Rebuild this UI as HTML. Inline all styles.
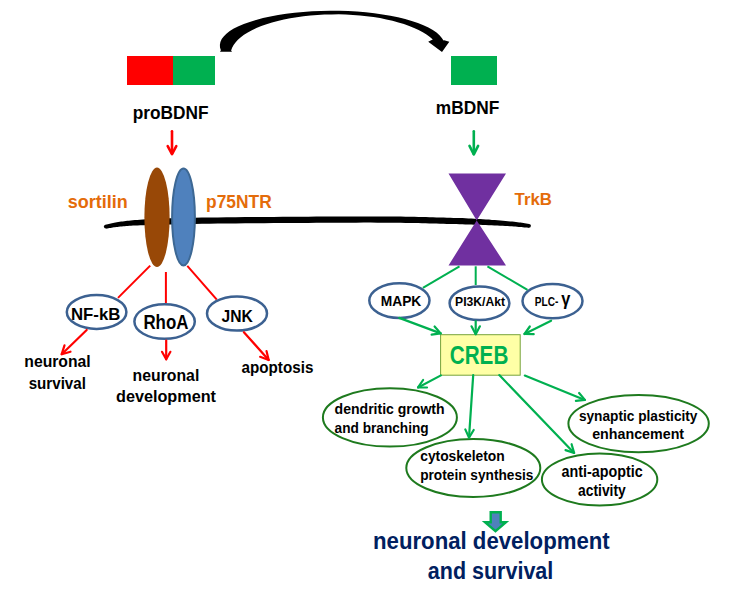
<!DOCTYPE html>
<html><head><meta charset="utf-8">
<style>
html,body{margin:0;padding:0;background:#fff;width:745px;height:597px;overflow:hidden}
svg{position:absolute;left:0;top:0;display:block}
text{font-family:"Liberation Sans",sans-serif;font-weight:bold}
</style></head><body>
<svg width="745" height="597" viewBox="0 0 745 597">
<!-- top boxes -->
<rect x="127" y="56" width="46" height="29" fill="#ff0000"/>
<rect x="173" y="56" width="42" height="29" fill="#00b050"/>
<rect x="451" y="56" width="46" height="29" fill="#00b050"/>
<!-- curved arrow -->
<path d="M220.0,51.7 L220.9,50.3 L220.0,47.5 L219.9,44.7 L220.4,41.9 L221.7,39.1 L223.7,36.4 L226.4,33.7 L229.8,31.1 L233.8,28.6 L238.5,26.3 L243.8,24.0 L249.7,21.9 L256.1,19.9 L263.0,18.1 L270.4,16.5 L278.1,15.0 L286.2,13.8 L294.6,12.7 L303.3,11.9 L312.1,11.3 L321.0,10.9 L330.1,10.7 L339.1,10.8 L348.1,11.1 L357.0,11.6 L365.8,12.3 L374.3,13.3 L382.5,14.4 L390.4,15.8 L398.0,17.3 L405.1,19.0 L411.7,20.9 L417.9,23.0 L423.4,25.2 L428.4,27.5 L432.8,30.0 L436.5,32.5 L439.5,35.2 L441.8,37.9 L443.5,40.6 L444.2,40.2 L449.3,41.7 L442.0,52.0 L428.2,41.7 L431.1,40.2 L432.8,39.5 L429.9,37.0 L426.5,34.6 L422.8,32.3 L418.6,30.0 L414.1,27.9 L409.2,25.9 L403.9,24.1 L398.4,22.4 L392.5,20.8 L386.4,19.4 L380.0,18.1 L373.5,17.1 L366.7,16.2 L359.9,15.4 L352.9,14.9 L345.8,14.5 L338.7,14.3 L331.5,14.4 L324.4,14.6 L317.4,14.9 L310.4,15.5 L303.5,16.2 L296.8,17.2 L290.2,18.3 L283.9,19.5 L277.8,21.0 L272.0,22.5 L266.5,24.3 L261.3,26.1 L256.4,28.1 L251.9,30.3 L247.8,32.5 L244.0,34.8 L240.8,37.3 L237.9,39.8 L235.5,42.4 L233.6,45.0 L232.1,47.7 L231.1,50.4 L232.0,51.7 Z" fill="#000"/>

<!-- texts top -->
<text x="132.75" y="119.2" font-size="18" textLength="75.85" lengthAdjust="spacingAndGlyphs">proBDNF</text>
<text x="435.8" y="113.9" font-size="18" textLength="63.4" lengthAdjust="spacingAndGlyphs">mBDNF</text>

<!-- membrane -->
<path d="M106.1,228.5 L107.3,228.4 L108.4,228.2 L109.5,228.0 L110.6,227.9 L111.7,227.7 L112.8,227.5 L113.9,227.3 L115.0,227.2 L116.2,227.0 L117.4,226.9 L118.8,226.7 L120.3,226.6 L121.8,226.4 L123.3,226.3 L124.7,226.2 L126.2,226.1 L127.7,225.9 L129.4,225.8 L131.1,225.7 L133.0,225.6 L135.2,225.5 L137.5,225.4 L140.2,225.3 L143.1,225.3 L146.3,225.2 L149.5,225.1 L152.8,225.0 L156.3,224.9 L160.0,224.8 L164.0,224.6 L168.2,224.5 L172.8,224.4 L177.7,224.3 L183.0,224.1 L188.8,224.0 L195.1,223.9 L202.0,223.8 L209.6,223.7 L217.9,223.6 L226.7,223.5 L235.8,223.4 L245.2,223.3 L254.7,223.2 L264.2,223.2 L273.6,223.1 L282.8,223.0 L291.6,223.0 L300.0,222.9 L308.2,222.9 L316.3,222.8 L324.5,222.8 L332.6,222.7 L340.6,222.7 L348.4,222.7 L356.1,222.7 L363.5,222.6 L370.7,222.6 L377.5,222.7 L383.9,222.7 L390.0,222.7 L395.6,222.7 L400.8,222.8 L405.6,222.9 L410.1,222.9 L414.3,223.0 L418.2,223.1 L422.0,223.2 L425.7,223.3 L429.3,223.4 L432.8,223.5 L436.3,223.6 L439.9,223.7 L443.5,223.8 L446.9,223.9 L450.2,224.0 L453.4,224.1 L456.4,224.1 L459.5,224.2 L462.4,224.3 L465.3,224.4 L468.2,224.5 L471.1,224.6 L474.0,224.7 L476.9,224.7 L479.8,224.8 L482.7,224.9 L485.7,225.1 L488.7,225.2 L491.6,225.3 L494.5,225.4 L497.3,225.6 L500.0,225.7 L502.7,225.8 L505.2,226.0 L507.6,226.1 L509.8,226.2 L511.9,226.3 L513.8,226.5 L515.5,226.6 L517.1,226.7 L518.7,226.9 L520.1,227.0 L521.5,227.1 L522.9,227.2 L524.3,227.4 L525.8,227.5 L527.2,227.6 L528.8,227.7 L529.2,223.9 L527.7,223.7 L526.2,223.4 L524.8,223.2 L523.4,223.0 L522.0,222.8 L520.6,222.6 L519.2,222.4 L517.6,222.2 L516.0,222.0 L514.2,221.8 L512.3,221.6 L510.2,221.4 L507.9,221.2 L505.5,221.0 L503.0,220.7 L500.4,220.5 L497.6,220.3 L494.8,220.1 L491.9,219.9 L489.0,219.6 L486.0,219.4 L483.0,219.2 L480.1,219.0 L477.1,218.9 L474.2,218.7 L471.3,218.5 L468.5,218.4 L465.6,218.2 L462.6,218.1 L459.7,218.0 L456.6,217.9 L453.5,217.9 L450.3,217.8 L447.0,217.7 L443.6,217.6 L440.1,217.5 L436.5,217.4 L433.0,217.3 L429.4,217.2 L425.9,217.1 L422.2,217.0 L418.4,216.9 L414.4,216.8 L410.2,216.7 L405.7,216.7 L400.8,216.6 L395.6,216.5 L390.0,216.5 L384.0,216.5 L377.5,216.5 L370.7,216.4 L363.5,216.4 L356.1,216.5 L348.4,216.5 L340.6,216.5 L332.6,216.5 L324.5,216.6 L316.3,216.6 L308.1,216.7 L300.0,216.7 L291.6,216.8 L282.7,216.8 L273.5,216.9 L264.1,217.0 L254.6,217.0 L245.1,217.1 L235.7,217.2 L226.6,217.3 L217.8,217.4 L209.6,217.5 L201.9,217.6 L194.9,217.7 L188.7,217.8 L182.9,217.9 L177.5,218.1 L172.6,218.2 L168.0,218.3 L163.8,218.5 L159.8,218.6 L156.1,218.7 L152.6,218.9 L149.2,219.1 L146.0,219.3 L142.9,219.5 L139.9,219.7 L137.2,219.9 L134.8,220.1 L132.7,220.3 L130.7,220.5 L128.9,220.7 L127.3,220.8 L125.7,221.0 L124.2,221.2 L122.7,221.4 L121.2,221.6 L119.7,221.8 L118.2,222.0 L116.8,222.3 L115.5,222.5 L114.2,222.7 L113.1,223.0 L111.9,223.2 L110.9,223.5 L109.8,223.7 L108.7,223.9 L107.7,224.2 L106.6,224.4 L105.5,224.7 Z" fill="#000"/>

<circle cx="105.8" cy="226.6" r="1.9" fill="#000"/><circle cx="529.0" cy="225.8" r="1.9" fill="#000"/>
<!-- receptors -->
<ellipse cx="157" cy="217.3" rx="12.6" ry="49.7" fill="#984807"/>
<ellipse cx="183.5" cy="217" rx="11.4" ry="48.5" fill="#4f81bd" stroke="#3d6894" stroke-width="2"/>
<path d="M448.5,173.4 L506,173.4 L476.7,220.4 Z M476.7,220.4 L506,265.5 L448.5,265.5 Z" fill="#7030a0"/>

<text x="67.8" y="207.8" font-size="18" fill="#e46c0a" textLength="60" lengthAdjust="spacingAndGlyphs">sortilin</text>
<text x="206.1" y="207.7" font-size="17.5" fill="#e46c0a" textLength="65.6" lengthAdjust="spacingAndGlyphs">p75NTR</text>
<text x="514.6" y="204.9" font-size="17.4" fill="#e46c0a" textLength="37.4" lengthAdjust="spacingAndGlyphs">TrkB</text>

<!-- red lines -->
<g stroke="#ff0000" stroke-width="2" fill="none">
<line x1="150.2" y1="265.6" x2="118" y2="297.9"/>
<line x1="165.9" y1="272" x2="165.9" y2="303.2"/>
<line x1="187.3" y1="265.9" x2="216.8" y2="299.6"/>
</g>

<!-- blue ellipses -->
<g fill="#fff" stroke="#3c6191" stroke-width="2.5">
<ellipse cx="96.6" cy="312" rx="29.8" ry="16.9"/>
<ellipse cx="164.6" cy="321.5" rx="30.2" ry="17.3"/>
<ellipse cx="237" cy="313.5" rx="30" ry="17.1"/>
<ellipse cx="399.4" cy="300.6" rx="30.1" ry="17.3"/>
<ellipse cx="479.5" cy="303.2" rx="29.9" ry="16.8"/>
<ellipse cx="552.5" cy="301.1" rx="30" ry="17.2"/>
</g>

<text x="71" y="320.4" font-size="17" textLength="49.4" lengthAdjust="spacingAndGlyphs">NF-kB</text>
<text x="143.4" y="328.9" font-size="19.5" textLength="45" lengthAdjust="spacingAndGlyphs">RhoA</text>
<text x="221.5" y="322.4" font-size="17.3" textLength="31.3" lengthAdjust="spacingAndGlyphs">JNK</text>

<text x="24.3" y="367" font-size="16" textLength="66.4" lengthAdjust="spacingAndGlyphs">neuronal</text>
<text x="28.7" y="389.3" font-size="16" textLength="57.2" lengthAdjust="spacingAndGlyphs">survival</text>
<text x="132.6" y="380.9" font-size="16" textLength="66.7" lengthAdjust="spacingAndGlyphs">neuronal</text>
<text x="116" y="401.8" font-size="16" textLength="100" lengthAdjust="spacingAndGlyphs">development</text>
<text x="241.5" y="373.3" font-size="17" textLength="71.9" lengthAdjust="spacingAndGlyphs">apoptosis</text>

<!-- green lines from TrkB -->
<g stroke="#00b050" stroke-width="2" fill="none">
<line x1="459.5" y1="266.3" x2="422.9" y2="287.8"/>
<line x1="475.7" y1="266.3" x2="475.7" y2="285"/>
<line x1="487.4" y1="266.3" x2="527.5" y2="289.9"/>
</g>

<text x="380.7" y="305.8" font-size="14.4" textLength="40.6" lengthAdjust="spacingAndGlyphs">MAPK</text>
<text x="455.1" y="305.5" font-size="13.3" textLength="50" lengthAdjust="spacingAndGlyphs">PI3K/Akt</text>
<text x="534.8" y="305.6" font-size="12.8" textLength="23.5" lengthAdjust="spacingAndGlyphs">PLC-</text>
<text x="561.3" y="305" font-size="17.5" textLength="9.1" lengthAdjust="spacingAndGlyphs">&#947;</text>

<!-- CREB -->
<rect x="440.6" y="334.7" width="79.6" height="40.5" fill="#ffffa6" stroke="#77a33b" stroke-width="1"/>
<text x="449.8" y="364" font-size="25" fill="#00b050" textLength="58.5" lengthAdjust="spacingAndGlyphs">CREB</text>



<!-- green ellipses -->
<g fill="none" stroke="#1e7a1e" stroke-width="2">
<ellipse cx="389.9" cy="417.4" rx="67" ry="29.2"/>
<ellipse cx="473.3" cy="468" rx="67" ry="29"/>
<ellipse cx="638.6" cy="423.6" rx="70.2" ry="28.7"/>
<ellipse cx="599.6" cy="479.5" rx="57.7" ry="26"/>
</g>

<text x="334.6" y="413.8" font-size="15" textLength="110" lengthAdjust="spacingAndGlyphs">dendritic growth</text>
<text x="334.6" y="433.4" font-size="15" textLength="94.1" lengthAdjust="spacingAndGlyphs">and branching</text>
<text x="420.2" y="461.3" font-size="15" textLength="84.5" lengthAdjust="spacingAndGlyphs">cytoskeleton</text>
<text x="420.2" y="480.2" font-size="15" textLength="113.3" lengthAdjust="spacingAndGlyphs">protein synthesis</text>
<text x="578.9" y="420.8" font-size="15" textLength="118.6" lengthAdjust="spacingAndGlyphs">synaptic plasticity</text>
<text x="592.2" y="439.3" font-size="15" textLength="91.9" lengthAdjust="spacingAndGlyphs">enhancement</text>
<text x="561.6" y="476.7" font-size="16" textLength="81.2" lengthAdjust="spacingAndGlyphs">anti-apoptic</text>
<text x="578" y="495.8" font-size="16" textLength="47.8" lengthAdjust="spacingAndGlyphs">activity</text>

<!-- arrows -->
<g stroke="#ff0000" stroke-width="2.2" fill="none" stroke-linecap="round" stroke-linejoin="round">
<g stroke-width="2.6"><line x1="172" y1="131.2" x2="172" y2="153.5"/><polyline points="176.3,146.2 172,154.2 167.7,146.2"/></g>
<line x1="86.7" y1="330" x2="61.7" y2="354.2"/><polyline points="70.5,351.7 61.7,354.2 64.5,345.4"/>
<line x1="166.2" y1="340.6" x2="166.2" y2="359.3"/><polyline points="170.4,351.8 166.2,359.3 162.0,351.8"/>
<line x1="243.9" y1="332.2" x2="268.7" y2="360"/><polyline points="266.5,351.1 268.7,360 260.1,356.8"/>
</g>
<g stroke="#00b050" stroke-width="2.2" fill="none" stroke-linecap="round" stroke-linejoin="round">
<g stroke-width="2.6"><line x1="473.8" y1="131.2" x2="473.8" y2="154"/><polyline points="478.1,145.9 473.8,154.3 469.5,145.9"/></g>
<line x1="399.2" y1="317.9" x2="440.7" y2="333.4"/><polyline points="434.6,326.5 440.7,333.4 431.6,334.6"/>
<line x1="475.7" y1="321" x2="475.7" y2="334.2"/><polyline points="479.9,326.3 475.7,334.2 471.5,326.3"/>
<line x1="551.1" y1="320.7" x2="524.5" y2="334"/><polyline points="533.7,334.2 524.5,334 529.8,326.5"/>
<line x1="440.9" y1="375.4" x2="418.05" y2="387.45"/><polyline points="427.0,387.5 418.05,387.45 423.1,380.0"/>
<line x1="473.2" y1="375.1" x2="469.0" y2="437.6"/><polyline points="473.7,430.0 469.0,437.6 465.3,429.4"/>
<line x1="499.3" y1="375.1" x2="574.1" y2="452.9"/><polyline points="571.6,444.2 574.1,452.9 565.5,450.1"/>
<line x1="524.8" y1="375.6" x2="584.9" y2="399.9"/><polyline points="579.1,393.0 584.9,399.9 575.9,400.8"/>
</g>
<!-- block arrow -->
<path d="M490.7,512.2 L500.7,512.2 L500.7,522.2 L506,522.2 L495.5,531.2 L485,522.2 L490.7,522.2 Z" fill="#4f81bd" stroke="#00b050" stroke-width="2.4" stroke-linejoin="miter"/>

<text x="373" y="549" font-size="23" fill="#002060" textLength="236.7" lengthAdjust="spacingAndGlyphs">neuronal development</text>
<text x="427.8" y="578.6" font-size="23" fill="#002060" textLength="125.5" lengthAdjust="spacingAndGlyphs">and survival</text>
</svg>
</body></html>
